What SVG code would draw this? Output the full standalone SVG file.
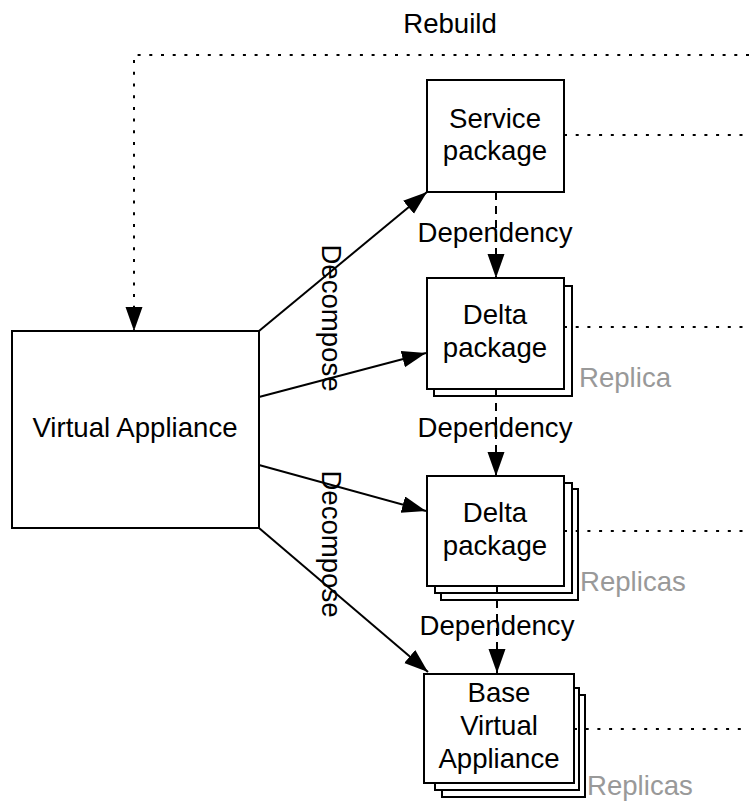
<svg xmlns="http://www.w3.org/2000/svg" width="749" height="803" viewBox="0 0 749 803">
<style>
text{font-family:"Liberation Sans",Arial,Helvetica,sans-serif;font-size:27.6px;fill:#000}
.c{text-anchor:middle}
.g{fill:#999}
.box{fill:#fff;stroke:#000;stroke-width:2}
.ln{fill:none;stroke:#000;stroke-width:2}
.dot{fill:none;stroke:#000;stroke-width:2;stroke-dasharray:3 8.7}
.dash{fill:none;stroke:#000;stroke-width:2;stroke-dasharray:8 6}
</style>
<defs>
<marker id="ah" markerUnits="userSpaceOnUse" markerWidth="26" markerHeight="18" refX="24" refY="8.5" orient="auto">
<path d="M0,0 L24,8.5 L0,17 z" fill="#000" stroke="none"/>
</marker>
</defs>
<rect width="749" height="803" fill="#fff"/>
<g id="virtual-appliance">
<rect class="box" x="12" y="331" width="247" height="197"/>
<text class="c" x="135" y="437">Virtual Appliance</text>
</g>
<g id="service-package">
<rect class="box" x="427" y="80" width="137" height="112"/>
<text class="c" x="495" y="128">Service</text>
<text class="c" x="495" y="160">package</text>
</g>
<g id="delta-package-1">
<rect class="box" x="434" y="286" width="138" height="110"/>
<rect class="box" x="427" y="278" width="137" height="111"/>
<text class="c" x="495" y="324">Delta</text>
<text class="c" x="495" y="357">package</text>
<text class="g" x="579" y="387">Replica</text>
</g>
<g id="delta-package-2">
<rect class="box" x="441" y="489" width="137" height="111"/>
<rect class="box" x="435" y="483" width="137" height="110"/>
<rect class="box" x="427" y="476" width="137" height="110"/>
<text class="c" x="495" y="522">Delta</text>
<text class="c" x="495" y="555">package</text>
<text class="g" x="580" y="591">Replicas</text>
</g>
<g id="base-virtual-appliance">
<rect class="box" x="442" y="695" width="143" height="102"/>
<rect class="box" x="435" y="688" width="144" height="102"/>
<rect class="box" x="424" y="674" width="150" height="109"/>
<text class="c" x="499" y="702">Base</text>
<text class="c" x="499" y="735">Virtual</text>
<text class="c" x="499" y="768">Appliance</text>
<text class="g" x="587" y="795">Replicas</text>
</g>
<g id="connectors">
<path class="dot" d="M749,55 H134 V331" marker-end="url(#ah)"/>
<text class="c" x="450" y="33">Rebuild</text>
<path class="dot" d="M564,135 H749"/>
<path class="dot" d="M564,327 H749"/>
<path class="dot" d="M564,531 H749"/>
<path class="dot" d="M574,729 H749"/>
<line class="ln" x1="259" y1="331" x2="427" y2="192" marker-end="url(#ah)"/>
<line class="ln" x1="259" y1="397" x2="426" y2="353" marker-end="url(#ah)"/>
<line class="ln" x1="259" y1="465" x2="426" y2="511" marker-end="url(#ah)"/>
<line class="ln" x1="259" y1="528" x2="428" y2="672" marker-end="url(#ah)"/>
<text class="c" transform="translate(322,318) rotate(90)">Decompose</text>
<text class="c" transform="translate(322,544) rotate(90)">Decompose</text>
<line class="dash" x1="496" y1="192" x2="496" y2="278" marker-end="url(#ah)"/>
<line class="dash" x1="496" y1="389" x2="496" y2="476" marker-end="url(#ah)"/>
<line class="dash" x1="497" y1="586" x2="497" y2="673" marker-end="url(#ah)"/>
<text class="c" x="495" y="242">Dependency</text>
<text class="c" x="495" y="437">Dependency</text>
<text class="c" x="497" y="635">Dependency</text>
</g>
</svg>
